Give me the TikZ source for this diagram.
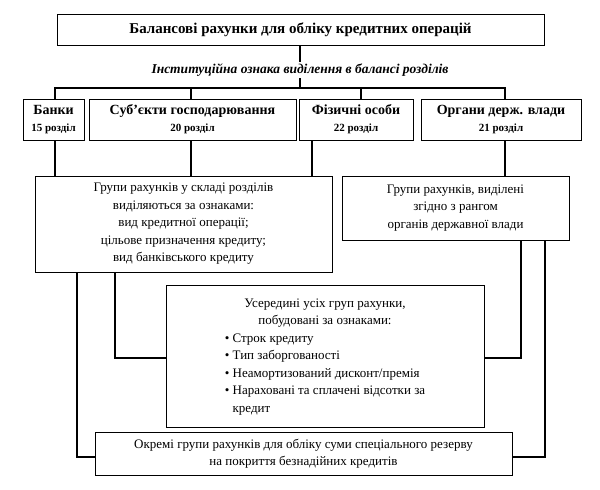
\documentclass[tikz,border=0pt]{standalone}
\usepackage{fontspec}
\setmainfont{Liberation Serif}
\begin{document}
\begin{tikzpicture}[x=1pt,y=-1pt,
  bx/.style={draw,line width=0.8pt,inner sep=0pt},
  ln/.style={line width=1.6pt}]
\useasboundingbox (0,0) rectangle (600,490);
\node[bx,minimum width=487,minimum height=31,font=\bfseries\fontsize{15}{17}\selectfont] (t) at (300.5,29.5) {Балансові рахунки для обліку кредитних операцій};
\tikzset{cat/.style={bx,minimum height=41,align=center,font=\bfseries\fontsize{14}{17}\selectfont}}
\node[cat,minimum width=61] (b1) at (53.5,119.5) {Банки\\{\fontsize{11}{13}\selectfont 15 розділ}};
\node[cat,minimum width=207] (b2) at (192.5,119.5) {Суб’єкти господарювання\\{\fontsize{11}{13}\selectfont 20 розділ}};
\node[cat,minimum width=114] (b3) at (356,119.5) {Фізичні особи\\{\fontsize{11}{13}\selectfont 22 розділ}};
\node[cat,minimum width=160] (b4) at (501,119.5) {Органи держ. влади\\{\fontsize{11}{13}\selectfont 21 розділ}};
\tikzset{txt/.style={bx,align=center,font=\fontsize{13}{17.5}\selectfont}}
\node[txt,minimum width=297,minimum height=96] (g1) at (183.5,224) {Групи рахунків у складі розділів\\виділяються за ознаками:\\вид кредитної операції;\\цільове призначення кредиту;\\вид банківського кредиту};
\node[txt,minimum width=227,minimum height=64] (g2) at (455.5,208) {Групи рахунків, виділені\\згідно з рангом\\органів державної влади};
\node[txt,minimum width=318,minimum height=142] (g3) at (325,356) {\begin{tabular}{@{}l@{}}\multicolumn{1}{c}{Усередині усіх груп рахунки,}\\\multicolumn{1}{c}{побудовані за ознаками:}\\\textbullet\ Строк кредиту\\\textbullet\ Тип заборгованості\\\textbullet\ Неамортизований дисконт/премія\\\textbullet\ Нараховані та сплачені відсотки за\\\phantom{\textbullet\ }кредит\end{tabular}};
\node[txt,minimum width=417,minimum height=43] (g4) at (303.5,453.5) {Окремі групи рахунків для обліку суми спеціального резерву\\на покриття безнадійних кредитів};
\draw[ln] (t.south -| 300,0) -- (300,88);
\node[fill=white,inner sep=2pt,font=\bfseries\itshape\fontsize{13.5}{15}\selectfont] (s) at (300,70) {Інституційна ознака виділення в балансі розділів};
\draw[ln] (55,99) -- (55,88) -- (505,88) -- (505,99);
\draw[ln] (191,88) -- (191,99) (361,88) -- (361,99);
\draw[ln] (b1.south -| 55,0) -- (55,176);
\draw[ln] (b2.south -| 191,0) -- (191,176);
\draw[ln] (b3.south -| 312,0) -- (312,176);
\draw[ln] (b4.south -| 505,0) -- (505,176);
\draw[ln] (g1.south -| 115,0) |- (g3.west |- 0,358);
\draw[ln] (g1.south -| 77,0) |- (g4.west |- 0,457);
\draw[ln] (g2.south -| 521,0) |- (g3.east |- 0,358);
\draw[ln] (g2.south -| 545,0) |- (g4.east |- 0,457);
\end{tikzpicture}
\end{document}
